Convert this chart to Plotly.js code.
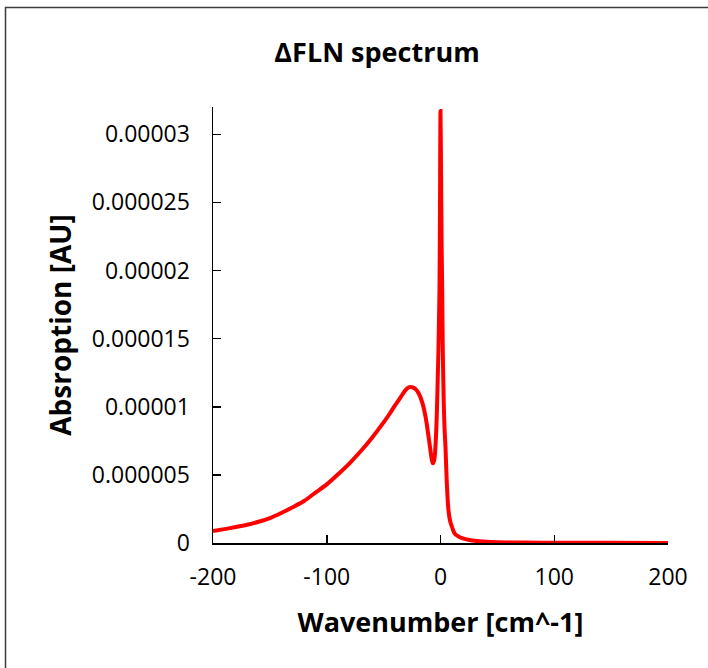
<!DOCTYPE html>
<html>
<head>
<meta charset="utf-8">
<script src="https://cdn.plot.ly/plotly-3.0.1.min.js"></script>
<style>
  html, body { margin: 0; padding: 0; background: #ffffff; }
  #chart { width: 708px; height: 668px; }
</style>
</head>
<body>
<div id="chart"></div>
<script>
// Wavenumber [cm^-1]
const wavenumber = [-200,-190,-180,-170,-160,-150,-140,-130,-120,-110,-100,-90,-80,-70,-60,-50,-45,-40,-35,-31,-28,-25,-22,-19,-16,-13,-11,-9,-7.8,-6.8,-5.5,-4.5,-3.5,-2.9,-2.3,-1.8,-1.3,-0.9,-0.5,0,0.5,1,1.5,2,2.8,3.5,4.4,5.5,7,8.5,10,12.3,15,19.6,25.5,30,40,50,75,100,150,200];
// Absorption in units of 1e-6 AU
const absorptionMicro = [0.88,1.02,1.17,1.34,1.56,1.83,2.2,2.62,3.08,3.7,4.3,5.05,5.85,6.75,7.75,8.85,9.45,10.1,10.7,11.2,11.42,11.43,11.3,10.95,10.3,9.2,8.1,6.9,6.2,5.85,6.1,7.0,8.8,10.5,12.5,14.2,16.5,18.6,23.5,31.7,27,22,18.5,14.2,10.5,8.5,7.0,4.5,2.4,1.6,1.2,0.71,0.52,0.34,0.22,0.16,0.09,0.06,0.03,0.02,0.01,0.008];
const absorption = absorptionMicro.map(v => v * 1e-6);

const xTickVals = [-200,-100,0,100,200];
const xTickText = ['-200','-100','0','100','200'];
const yTickVals = [0,0.000005,0.00001,0.000015,0.00002,0.000025,0.00003];
const yTickText = ['0','0.000005','0.00001','0.000015','0.00002','0.000025','0.00003'];

const trace = {
  x: wavenumber,
  y: absorption,
  type: 'scatter',
  mode: 'lines',
  line: { color: '#ff0000', width: 4, shape: 'spline', smoothing: 0.8 },
  hoverinfo: 'x+y'
};

const layout = {
  width: 708,
  height: 668,
  paper_bgcolor: '#ffffff',
  plot_bgcolor: '#ffffff',
  showlegend: false,
  margin: { l: 213, r: 40, t: 107, b: 125 },
  font: { family: 'Open Sans, Liberation Sans, sans-serif', color: '#000000', size: 23 },
  title: {
    text: '<b>ΔFLN spectrum</b>',
    font: { family: 'Open Sans, Liberation Sans, sans-serif', size: 27, color: '#000000' },
    xref: 'container', yref: 'container',
    x: 377 / 708, xanchor: 'center',
    y: 1 - 53 / 668, yanchor: 'middle'
  },
  xaxis: {
    range: [-200, 200],
    tickvals: xTickVals,
    ticktext: xTickText,
    ticks: 'inside',
    ticklen: 8,
    tickwidth: 1.5,
    tickcolor: '#000000',
    showline: true,
    linecolor: '#000000',
    linewidth: 1.5,
    showgrid: false,
    zeroline: false,
    ticklabelstandoff: 13,
    tickfont: { size: 23, color: '#000000' },
    title: {
      text: '<b>Wavenumber [cm^-1]</b>',
      font: { size: 27, color: '#000000' },
      standoff: 22
    }
  },
  yaxis: {
    range: [0, 0.000032],
    tickvals: yTickVals,
    ticktext: yTickText,
    ticks: 'inside',
    ticklen: 8,
    tickwidth: 1.5,
    tickcolor: '#000000',
    showline: true,
    linecolor: '#000000',
    linewidth: 1.5,
    showgrid: false,
    zeroline: false,
    ticklabelstandoff: 17,
    tickfont: { size: 23, color: '#000000' },
    title: {
      text: '<b>Absroption [AU]</b>',
      font: { size: 28, color: '#000000' },
      standoff: 12
    }
  },
  shapes: [{
    type: 'rect',
    xref: 'paper', yref: 'paper',
    x0: (5.5 - 213) / 455, x1: 1.3,
    y0: -0.5, y1: (543 - 7.5) / 436,
    line: { color: '#3a3a3a', width: 1.5 },
    fillcolor: 'rgba(0,0,0,0)',
    layer: 'below'
  }]
};

Plotly.newPlot('chart', [trace], layout, { displayModeBar: false, staticPlot: true });
</script>
</body>
</html>
